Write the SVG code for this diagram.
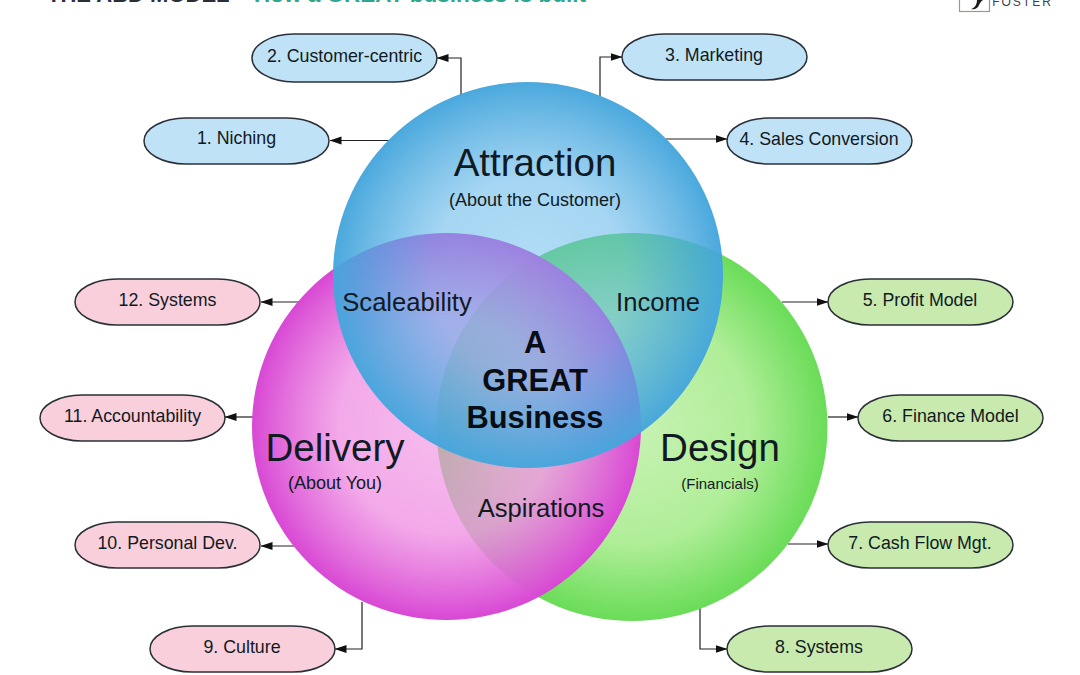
<svg xmlns="http://www.w3.org/2000/svg" width="1080" height="675" viewBox="0 0 1080 675">
<style>
text{font-family:"Liberation Sans",Arial,sans-serif;fill:#111a22;text-anchor:middle}
.pill{stroke:#2b3038;stroke-width:1.5}
.blue{fill:#c0e2f6}.pink{fill:#f9cfdc}.green{fill:#c8eaae}
.lab{font-size:17.8px}
.big{font-size:38.5px}
.sub{font-size:18px}
.mid{font-size:25.6px}
.core{font-size:30.8px;font-weight:bold;fill:#0a0d14}
.conn{fill:none;stroke:#222;stroke-width:1.2;marker-end:url(#arr)}
</style>
<defs>
<marker id="arr" markerUnits="userSpaceOnUse" markerWidth="13" markerHeight="10" refX="11.500" refY="5" orient="auto"><path d="M12 5L0 1V9Z" fill="#111"/></marker>
<radialGradient id="gA"><stop offset="0" stop-color="#64b9eb" stop-opacity=".5"/><stop offset=".5" stop-color="#5cb4e8" stop-opacity=".55"/><stop offset=".85" stop-color="#48a8de" stop-opacity=".82"/><stop offset="1" stop-color="#45a6dc" stop-opacity=".97"/></radialGradient>
<radialGradient id="gD"><stop offset="0" stop-color="#f090e0" stop-opacity=".6"/><stop offset=".55" stop-color="#f094e4" stop-opacity=".8"/><stop offset="1" stop-color="#d848d4"/></radialGradient>
<radialGradient id="gG"><stop offset="0" stop-color="#c8f2b4"/><stop offset=".6" stop-color="#b0ee98"/><stop offset="1" stop-color="#6adc58"/></radialGradient>
</defs>
<rect width="1080" height="675" fill="#fff"/>
<g id="header">
<text x="47" y="2" style="font-size:22px;font-weight:bold;text-anchor:start;fill:#2a2e3a">THE ABD MODEL</text>
<text x="420" y="2" style="font-size:22.500px;font-weight:bold;fill:#2fa58f">How a GREAT business is built</text>
</g>
<g id="logo">
<rect x="959.500" y="-8" width="30" height="19.500" fill="#fff" stroke="#9a9a92" stroke-width="1.200"/>
<path d="M971 9C975 8 977 4 977 0L983 0C981 1 980 3 979 5C978 8 975 10 971 9Z" fill="#1c1c1c"/>
<text x="1022.500" y="6" style="font-size:12px;letter-spacing:2px;fill:#3a3f55">FOSTER</text>
</g>
<g id="connectors">
<path class="conn" d="M461 96V58H437"/>
<path class="conn" d="M389 140.500H330"/>
<path class="conn" d="M600 96V57H622"/>
<path class="conn" d="M666 139H727"/>
<path class="conn" d="M782 302H828"/>
<path class="conn" d="M828 417H858"/>
<path class="conn" d="M788 544H828"/>
<path class="conn" d="M700 608V649H727"/>
<path class="conn" d="M362 602V649H335"/>
<path class="conn" d="M296 546H261"/>
<path class="conn" d="M254 417H225"/>
<path class="conn" d="M299 302H261"/>
</g>
<g id="circle-design"><ellipse cx="632" cy="427" rx="195.500" ry="194" fill="url(#gG)"/></g>
<g id="circle-delivery"><ellipse cx="446.500" cy="426.500" rx="194.500" ry="193.500" fill="url(#gD)"/></g>
<g id="circle-attraction"><ellipse cx="528" cy="275" rx="195" ry="193" fill="url(#gA)"/></g>
<g id="label-attraction"><text class="big" x="535" y="176">Attraction</text><text class="sub" x="535" y="205.500">(About the Customer)</text></g>
<g id="label-delivery"><text class="big" x="335" y="461">Delivery</text><text class="sub" x="335" y="489">(About You)</text></g>
<g id="label-design"><text class="big" x="720" y="461">Design</text><text x="720" y="489" style="font-size:15px">(Financials)</text></g>
<g id="label-scaleability"><text class="mid" x="407" y="311">Scaleability</text></g>
<g id="label-income"><text class="mid" x="658" y="311">Income</text></g>
<g id="label-aspirations"><text class="mid" x="541" y="517">Aspirations</text></g>
<g id="label-core"><text class="core" x="535" y="353">A</text><text class="core" x="535" y="391">GREAT</text><text class="core" x="535" y="428">Business</text></g>
<g id="n2"><rect class="pill blue" x="252" y="34" width="185" height="48" rx="42" ry="24"/><text class="lab" x="344.500" y="62">2. Customer-centric</text></g>
<g id="n1"><rect class="pill blue" x="144" y="118" width="185" height="46" rx="42" ry="23"/><text class="lab" x="236.500" y="144">1. Niching</text></g>
<g id="n3"><rect class="pill blue" x="622" y="34" width="185" height="46" rx="42" ry="23"/><text class="lab" x="714" y="61">3. Marketing</text></g>
<g id="n4"><rect class="pill blue" x="727" y="118" width="185" height="46" rx="42" ry="23"/><text class="lab" x="819" y="144.500">4. Sales Conversion</text></g>
<g id="n5"><rect class="pill green" x="828" y="279" width="185" height="46" rx="42" ry="23"/><text class="lab" x="920" y="306">5. Profit Model</text></g>
<g id="n6"><rect class="pill green" x="858" y="395" width="185" height="46" rx="42" ry="23"/><text class="lab" x="950.500" y="422">6. Finance Model</text></g>
<g id="n7"><rect class="pill green" x="828" y="522" width="185" height="46" rx="42" ry="23"/><text class="lab" x="920" y="549">7. Cash Flow Mgt.</text></g>
<g id="n8"><rect class="pill green" x="727" y="626" width="185" height="46" rx="42" ry="23"/><text class="lab" x="819" y="652.500">8. Systems</text></g>
<g id="n9"><rect class="pill pink" x="150" y="626" width="185" height="46" rx="42" ry="23"/><text class="lab" x="242" y="652.500">9. Culture</text></g>
<g id="n10"><rect class="pill pink" x="75" y="522" width="185" height="46" rx="42" ry="23"/><text class="lab" x="167.500" y="549">10. Personal Dev.</text></g>
<g id="n11"><rect class="pill pink" x="40" y="395" width="185" height="46" rx="42" ry="23"/><text class="lab" x="132.500" y="422">11. Accountability</text></g>
<g id="n12"><rect class="pill pink" x="75" y="279" width="185" height="46" rx="42" ry="23"/><text class="lab" x="167.500" y="306">12. Systems</text></g>
</svg>
